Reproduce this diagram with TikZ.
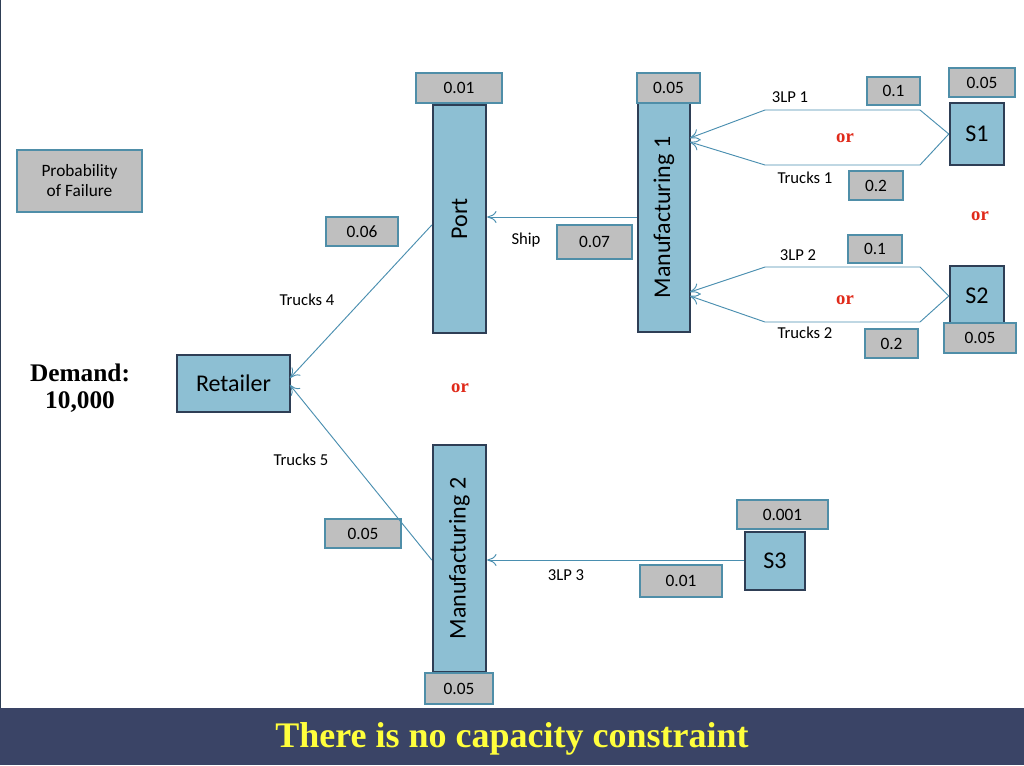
\documentclass[tikz,border=0pt]{standalone}
\usepackage{fontspec}
\setmainfont{Carlito}
\newfontfamily\serifb{Liberation Serif}
\usetikzlibrary{arrows.meta}
\definecolor{boxfill}{HTML}{8DBFD3}
\definecolor{boxline}{HTML}{2E3E55}
\definecolor{gfill}{HTML}{BFBFBF}
\definecolor{gline}{HTML}{4F8EA8}
\definecolor{conn}{HTML}{4A8FB0}
\definecolor{navy}{HTML}{3A4466}
\definecolor{ored}{HTML}{E02A1A}
\begin{document}
\begin{tikzpicture}[x=0.75pt,y=-0.75pt,
  bx/.style={draw=boxline,line width=1.8pt,fill=boxfill,inner sep=0pt},
  gb/.style={draw=gline,line width=0.8pt,fill=gfill,inner sep=0pt},
  lb/.style={font=\fontsize{12.5}{14}\selectfont,inner sep=0pt},
  orl/.style={font=\serifb\bfseries\fontsize{14}{16}\selectfont,text=ored,inner sep=0pt},
  cn/.style={draw=conn,line width=0.7pt},
  ar/.style={cn,-{To[length=7pt,width=9pt]}}]
\useasboundingbox (0,0) rectangle (1024,765);
\fill[white] (0,0) rectangle (1024,765);
\draw[boxline,line width=1pt] (0.5,0) -- (0.5,708);
\fill[navy] (0,708) rectangle (1024,765);
\node[font=\serifb\bfseries\fontsize{27}{30}\selectfont,text={rgb,255:red,255;green,255;blue,60}] (bar) at (512,739) {There is no capacity constraint};
% main boxes
\newcommand\bxn[6]{\node[bx,minimum width=#4*0.75pt,minimum height=#5*0.75pt] (#1) at (#2,#3) {#6};}
\node[bx,minimum width=84.75pt,minimum height=42.75pt,font=\fontsize{18}{20}\selectfont] (ret) at (233.5,383.5) {Retailer};
\node[bx,minimum width=39.75pt,minimum height=171pt,font=\fontsize{18}{20}\selectfont] (port) at (459.5,219) {\rotatebox{90}{Port}};
\node[bx,minimum width=39pt,minimum height=171.75pt,font=\fontsize{18}{20}\selectfont] (m1) at (664,217.5) {\rotatebox{90}{Manufacturing 1}};
\node[bx,minimum width=39.75pt,minimum height=170.25pt,font=\fontsize{18}{20}\selectfont] (m2) at (459.5,558.5) {\rotatebox{90}{Manufacturing 2}};
\node[bx,minimum width=40.5pt,minimum height=46.5pt,font=\fontsize{18}{20}\selectfont] (s1) at (977,134) {S1};
\node[bx,minimum width=40.5pt,minimum height=45pt,font=\fontsize{18}{20}\selectfont] (s2) at (977,296) {S2};
\node[bx,minimum width=45pt,minimum height=43.5pt,font=\fontsize{18}{20}\selectfont] (s3) at (775,561) {S3};
% gray boxes
\node[gb,minimum width=93.75pt,minimum height=46.5pt,align=center,font=\fontsize{13}{15}\selectfont] (pf) at (79.5,181) {Probability\\of Failure};
\newcommand\gbox[6]{\node[gb,minimum width=#4*0.75pt,minimum height=#5*0.75pt,font=\fontsize{13}{15}\selectfont] (#1) at (#2,#3) {#6};}
\gbox{g1}{459}{88}{86}{30}{0.01}
\gbox{g2}{668.5}{88}{63}{30}{0.05}
\gbox{g3}{893.5}{91}{53}{28}{0.1}
\gbox{g4}{982}{82.5}{66}{29}{0.05}
\gbox{g5}{876}{185.5}{54}{29}{0.2}
\gbox{g6}{362}{231.5}{72}{29}{0.06}
\gbox{g7}{594.5}{242}{75}{34}{0.07}
\gbox{g8}{875}{249}{54}{28}{0.1}
\gbox{g9}{891.5}{343.5}{53}{29}{0.2}
\gbox{g10}{980}{338}{72}{30}{0.05}
\gbox{g11}{782.5}{514.5}{91}{29}{0.001}
\gbox{g12}{363}{533.5}{76}{29}{0.05}
\gbox{g13}{681}{581}{82}{32}{0.01}
\gbox{g14}{459}{688.5}{68}{31}{0.05}
% connectors
\coordinate (a1) at (920,110); \coordinate (a2) at (765,110);
\coordinate (b1) at (920,165); \coordinate (b2) at (765,165);
\coordinate (c1) at (920,267); \coordinate (c2) at (765,267);
\coordinate (d1) at (920,322); \coordinate (d2) at (765,322);
\draw[ar] (s1.west) -- (a1) -- (a2) -- (690,138);
\draw[ar] (s1.west) -- (b1) -- (b2) -- (690,142);
\draw[ar] (s2.west) -- (c1) -- (c2) -- (690,292);
\draw[ar] (s2.west) -- (d1) -- (d2) -- (690,296);
\draw[ar] (m1.west |- 0,217) -- (port.east |- 0,217);
\draw[ar] (port.west |- 0,225) -- (290,378);
\draw[ar] (m2.west |- 0,560) -- (290,385);
\draw[ar] (s3.west |- 0,560) -- (m2.east |- 0,560);
% labels
\node[lb] (l1) at (790,97) {3LP 1};
\node[lb] (l2) at (805,178) {Trucks 1};
\node[lb] (l3) at (798,255) {3LP 2};
\node[lb] (l4) at (805,333) {Trucks 2};
\node[lb] (l5) at (526,240) {Ship};
\node[lb] (l6) at (307,300) {Trucks 4};
\node[lb] (l7) at (301,460) {Trucks 5};
\node[lb] (l8) at (566,575) {3LP 3};
\node[orl] (o1) at (845,138) {or};
\node[orl] (o2) at (980,216) {or};
\node[orl] (o3) at (845,300) {or};
\node[orl] (o4) at (460,388) {or};
\node[font=\serifb\bfseries\fontsize{19}{22}\selectfont,align=center] (dem) at (80,388) {Demand:\\[-2pt]10,000};
\end{tikzpicture}
\end{document}
